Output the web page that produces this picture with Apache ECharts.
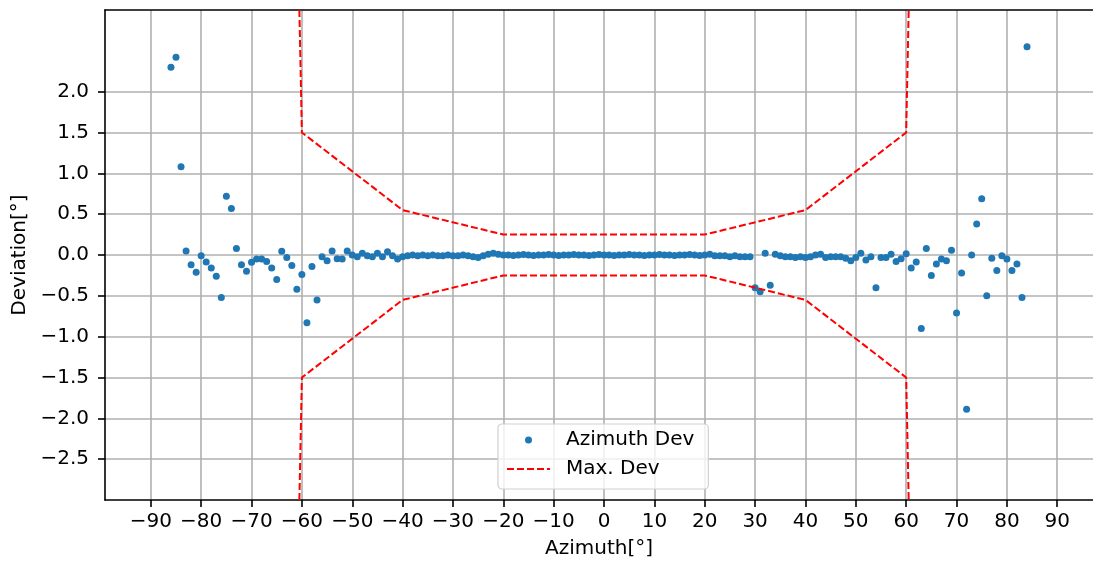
<!DOCTYPE html>
<html>
<head>
<meta charset="utf-8">
<script src="https://cdn.jsdelivr.net/npm/echarts@6/dist/echarts.min.js"></script>
<style>
  html, body { margin: 0; padding: 0; background: #fff; }
  #chart { width: 1093px; height: 564px; }
</style>
</head>
<body>
<div id="chart"></div>
<script>
// azimuth of each measured point, in degrees
const azimuth = [
  -86, -85, -84, -83, -82, -81, -80, -79, -78, -77, -76, -75, -74, -73, -72, -71, -70, -69, -68, -67,
  -66, -65, -64, -63, -62, -61, -60, -59, -58, -57, -56, -55, -54, -53, -52, -51, -50, -49, -48, -47,
  -46, -45, -44, -43, -42, -41, -40, -39, -38, -37, -36, -35, -34, -33, -32, -31, -30, -29, -28, -27,
  -26, -25, -24, -23, -22, -21, -20, -19, -18, -17, -16, -15, -14, -13, -12, -11, -10, -9, -8, -7,
  -6, -5, -4, -3, -2, -1, 0, 1, 2, 3, 4, 5, 6, 7, 8, 9, 10, 11, 12, 13,
  14, 15, 16, 17, 18, 19, 20, 21, 22, 23, 24, 25, 26, 27, 28, 29, 30, 31, 32, 33,
  34, 35, 36, 37, 38, 39, 40, 41, 42, 43, 44, 45, 46, 47, 48, 49, 50, 51, 52, 53,
  54, 55, 56, 57, 58, 59, 60, 61, 62, 63, 64, 65, 66, 67, 68, 69, 70, 71, 72, 73,
  74, 75, 76, 77, 78, 79, 80, 81, 82, 83, 84
];
// deviation at each azimuth above
const deviation = [
  2.30, 2.42, 1.08, 0.05, -0.12, -0.21, -0.01, -0.085, -0.16, -0.26, -0.52, 0.72, 0.57, 0.08, -0.12, -0.20, -0.09, -0.05, -0.05, -0.08,
  -0.16, -0.30, 0.045, -0.03, -0.13, -0.42, -0.24, -0.83, -0.14, -0.55, -0.02, -0.07, 0.05, -0.045, -0.05, 0.05, 0.0, -0.02, 0.02, -0.01,
  -0.02, 0.02, -0.02, 0.04, -0.01, -0.05, -0.02, -0.01, 0.0, -0.01, 0.0, -0.01, 0.0, -0.01, -0.01, 0.0, -0.01, -0.01, 0.0, -0.01,
  -0.02, -0.03, -0.01, 0.01, 0.02, 0.01, 0.0, 0.0, -0.005, 0.0, 0.005, 0.0, -0.005, 0.0, 0.0, 0.005, 0.0, -0.005, 0.0, 0.0,
  0.005, 0.0, 0.0, -0.005, 0.0, 0.005, 0.0, 0.0, -0.005, 0.0, 0.0, 0.005, 0.0, 0.0, -0.005, 0.0, 0.0, 0.005, 0.0, 0.0,
  -0.005, 0.0, 0.0, 0.005, 0.0, -0.005, 0.0, 0.01, -0.01, -0.01, -0.01, -0.02, -0.01, -0.02, -0.02, -0.02, -0.40, -0.45, 0.02, -0.37,
  0.01, -0.01, -0.02, -0.02, -0.03, -0.02, -0.03, -0.02, 0.0, 0.01, -0.03, -0.02, -0.02, -0.02, -0.04, -0.07, -0.03, 0.02, -0.06, -0.02,
  -0.40, -0.03, -0.03, 0.01, -0.08, -0.045, 0.016, -0.16, -0.085, -0.90, 0.08, -0.25, -0.11, -0.05, -0.07, 0.057, -0.71, -0.22, -1.89, 0.0,
  0.38, 0.69, -0.50, -0.04, -0.19, -0.01, -0.05, -0.19, -0.11, -0.52, 2.55
];

// allowed deviation envelope
const limitAz = [-60.5, -60, -40, -20, 20, 40, 60, 60.5];
const limitUpper = [3, 1.5, 0.55, 0.25, 0.25, 0.55, 1.5, 3];
const limitLower = [-3, -1.5, -0.55, -0.25, -0.25, -0.55, -1.5, -3];

const xTicks = [-90, -80, -70, -60, -50, -40, -30, -20, -10, 0, 10, 20, 30, 40, 50, 60, 70, 80, 90];
const yTicks = [-2.5, -2.0, -1.5, -1.0, -0.5, 0.0, 0.5, 1.0, 1.5, 2.0];

const FONT = 'DejaVu Sans';
const minus = s => String(s).replace('-', '\u2212');
const spine = { color: '#000', width: 1.6 };

const chart = echarts.init(document.getElementById('chart'), null, { renderer: 'canvas' });

chart.setOption({
    animation: false,
    backgroundColor: '#fff',
    textStyle: { fontFamily: FONT },
    grid: { left: 105, top: 10, right: 0, bottom: 63 },
    legend: {
        left: 498, top: 424,
        orient: 'vertical',
        itemWidth: 43, itemHeight: 7, itemGap: 9,
        padding: [6, 14, 10, 8],
        backgroundColor: 'rgba(255,255,255,0.8)',
        borderColor: '#d0d0d0', borderWidth: 1.2, borderRadius: 4,
        textStyle: { fontFamily: FONT, fontSize: 20, color: '#000', padding: [0, 0, 0, 11] },
        data: [
            { name: 'Azimuth Dev' },
            // line sample only, no marker in the middle
            { name: 'Max. Dev', itemStyle: { color: 'rgba(0,0,0,0)', borderColor: 'rgba(0,0,0,0)', borderWidth: 0 } }
        ]
    },
    xAxis: [
        {
            type: 'value',
            min: -99.1, max: 97.1,
            name: 'Azimuth[°]', nameLocation: 'middle', nameGap: 39,
            nameTextStyle: { fontFamily: FONT, fontSize: 20, color: '#000' },
            axisLine: { onZero: false, lineStyle: spine },
            axisTick: { length: 7, lineStyle: spine, customValues: xTicks },
            axisLabel: {
                customValues: xTicks, margin: 12,
                fontFamily: FONT, fontSize: 20, color: '#000',
                formatter: v => minus(v)
            },
            splitLine: { show: true, lineStyle: { color: '#b0b0b0', width: 1.6 } }
        },
        {
            // top spine only
            type: 'value', position: 'top',
            min: -99.1, max: 97.1,
            axisLine: { onZero: false, lineStyle: spine },
            axisTick: { show: false },
            axisLabel: { show: false },
            splitLine: { show: false }
        }
    ],
    yAxis: {
        type: 'value',
        min: -3, max: 3,
        name: 'Deviation[°]', nameLocation: 'middle', nameGap: 74,
        nameTextStyle: { fontFamily: FONT, fontSize: 20, color: '#000' },
        axisLine: { onZero: false, lineStyle: spine },
        axisTick: { length: 7, lineStyle: spine, customValues: yTicks },
        axisLabel: {
            customValues: yTicks, margin: 16,
            fontFamily: FONT, fontSize: 20, color: '#000',
            formatter: v => minus(Number(v).toFixed(1)).replace('\u22120.0', '0.0')
        },
        splitLine: { show: true, lineStyle: { color: '#b0b0b0', width: 1.6 } }
    },
    series: [
        {
            name: 'Azimuth Dev',
            type: 'scatter',
            symbol: 'circle',
            symbolSize: 7,
            symbolKeepAspect: true,
            itemStyle: { color: '#1f77b4', opacity: 1 },
            data: azimuth.map((a, i) => [a, deviation[i]]),
            z: 3
        },
        {
            name: 'Max. Dev',
            type: 'line',
            symbol: 'none',
            lineStyle: { color: '#ff0000', width: 2, type: [7, 3] },
            itemStyle: { color: '#ff0000' },
            data: limitAz.map((a, i) => [a, limitUpper[i]]),
            z: 4
        },
        {
            name: 'Max. Dev',
            type: 'line',
            symbol: 'none',
            lineStyle: { color: '#ff0000', width: 2, type: [7, 3] },
            itemStyle: { color: '#ff0000' },
            data: limitAz.map((a, i) => [a, limitLower[i]]),
            z: 4
        }
    ]
});
</script>
</body>
</html>
